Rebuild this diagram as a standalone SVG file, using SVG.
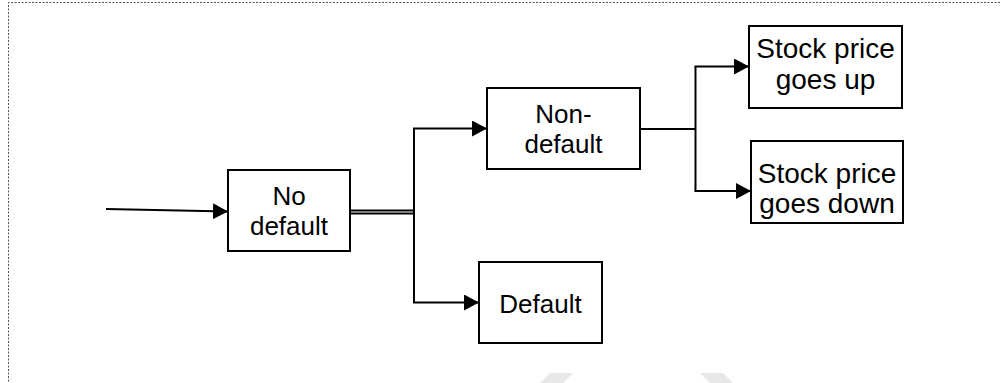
<svg xmlns="http://www.w3.org/2000/svg" width="1000" height="383" viewBox="0 0 1000 383">
  <style>
    .box { fill: #ffffff; stroke: #000000; stroke-width: 2; }
    .lbl { font-family: "Liberation Sans", Arial, sans-serif; font-size: 26px; fill: #000000; text-anchor: middle; }
    .lbl-lg { font-size: 28px; }
    .wire { fill: none; stroke: #000000; stroke-width: 2; }
    .arrow { fill: none; stroke: #000000; stroke-width: 2; marker-end: url(#head); }
    .frame { fill: none; stroke: #555555; stroke-width: 1; stroke-dasharray: 2 1.5; }
    .mark { fill: #e8e8e8; }
  </style>
  <defs>
    <marker id="head" viewBox="0 0 15 16" refX="15" refY="8" markerWidth="15" markerHeight="16" markerUnits="userSpaceOnUse" orient="auto">
      <path d="M0,0 L15,8 L0,16 Z" fill="#000000"/>
    </marker>
  </defs>

  <rect width="1000" height="383" fill="#ffffff"/>

  <!-- page frame -->
  <path class="frame" d="M1000,2.5 H8.5 V383"/>

  <!-- faint background mark -->
  <polygon class="mark" points="550,373 573,373 563,383 540,383"/>
  <polygon class="mark" points="700,373 723,373 733,383 710,383"/>

  <g id="connectors">
    <!-- entry -->
    <path class="arrow" d="M106,209 L228,211.5"/>
    <!-- double link out of No default -->
    <path class="wire" d="M350,210.5 H414"/>
    <path class="wire" d="M350,213.5 H414" stroke-width="1.5"/>
    <!-- branch to Non-default / Default -->
    <path class="wire" d="M414,128.5 V302.5"/>
    <path class="arrow" d="M413,128.5 H487"/>
    <path class="arrow" d="M413,302.5 H479"/>
    <!-- branch out of Non-default -->
    <path class="wire" d="M640,129 H696"/>
    <path class="wire" d="M695.5,66.5 V191"/>
    <path class="arrow" d="M694.5,66.5 H749"/>
    <path class="arrow" d="M694.5,191 H751"/>
  </g>

  <g id="no-default">
    <rect class="box" x="228" y="170" width="122" height="81"/>
    <text class="lbl" x="289" y="205">No</text>
    <text class="lbl" x="289" y="235">default</text>
  </g>

  <g id="non-default">
    <rect class="box" x="487" y="88" width="153" height="81"/>
    <text class="lbl" x="563.5" y="123">Non-</text>
    <text class="lbl" x="563.5" y="153">default</text>
  </g>

  <g id="default">
    <rect class="box" x="479" y="262" width="123" height="81"/>
    <text class="lbl" x="540.5" y="313">Default</text>
  </g>

  <g id="stock-up">
    <rect class="box" x="749" y="26" width="153" height="82"/>
    <text class="lbl lbl-lg" x="825.5" y="58">Stock price</text>
    <text class="lbl lbl-lg" x="825.5" y="89">goes up</text>
  </g>

  <g id="stock-down">
    <rect class="box" x="751" y="141" width="152" height="82"/>
    <text class="lbl lbl-lg" x="827" y="183">Stock price</text>
    <text class="lbl lbl-lg" x="827" y="213">goes down</text>
  </g>
</svg>
